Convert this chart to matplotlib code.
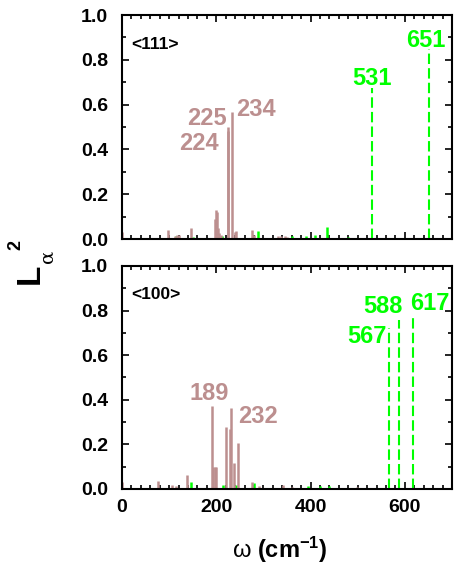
import matplotlib
matplotlib.use("Agg")
import matplotlib.pyplot as plt
from matplotlib.ticker import MultipleLocator

plt.rcParams['font.family'] = ['Liberation Sans', 'DejaVu Sans']
plt.rcParams['mathtext.fontset'] = 'custom'
plt.rcParams['mathtext.bf'] = 'Liberation Sans:bold'
plt.rcParams['mathtext.rm'] = 'Liberation Sans'
plt.rcParams['mathtext.it'] = 'Liberation Sans:italic'

BROWN = '#bc8f8f'
GREEN = '#00ff00'

# ---- <111> panel ----
top_brown_freq = [0, 97, 112, 116, 120, 146, 197, 199, 201, 203, 206, 210, 224, 225, 234, 239, 242, 275, 280, 330, 338, 345, 350, 455, 470, 485, 500]
top_brown_val  = [0.033, 0.04, 0.015, 0.02, 0.018, 0.048, 0.09, 0.13, 0.12, 0.05, 0.025, 0.02, 0.48, 0.50, 0.565, 0.03, 0.036, 0.04, 0.02, 0.015, 0.012, 0.015, 0.01, 0.006, 0.005, 0.006, 0.005]
top_green_freq = [115, 150, 213, 289, 360, 390, 409, 435, 480]
top_green_val  = [0.012, 0.01, 0.015, 0.034, 0.012, 0.012, 0.02, 0.055, 0.008]
top_mode_freq = [531, 651]
top_mode_val  = [0.673, 0.85]

# ---- <100> panel ----
bot_brown_freq = [0, 76, 107, 115, 138, 190, 194, 197, 200, 220, 229, 232, 237, 247, 275, 290, 342, 360, 498]
bot_brown_val  = [0.033, 0.036, 0.02, 0.015, 0.063, 0.372, 0.1, 0.1, 0.1, 0.28, 0.268, 0.362, 0.115, 0.205, 0.03, 0.015, 0.02, 0.01, 0.008]
bot_green_freq = [146, 215, 242, 281, 395, 420, 440]
bot_green_val  = [0.03, 0.02, 0.02, 0.025, 0.012, 0.015, 0.012]
bot_mode_freq = [567, 588, 617]
bot_mode_val  = [0.72, 0.758, 0.776]

fig = plt.figure(figsize=(4.55, 5.64), dpi=100)
ax1 = fig.add_axes([0.268, 0.5762, 0.7254, 0.3972])
ax2 = fig.add_axes([0.268, 0.133, 0.7254, 0.3954])


def style(ax, show_xlabels):
    ax.set_xlim(0, 700)
    ax.set_ylim(0, 1.0)
    ax.xaxis.set_major_locator(MultipleLocator(200))
    ax.xaxis.set_minor_locator(MultipleLocator(20))
    ax.yaxis.set_major_locator(MultipleLocator(0.2))
    ax.yaxis.set_minor_locator(MultipleLocator(0.1))
    ax.tick_params(which='both', direction='in', top=True, right=True, width=1.2)
    ax.tick_params(which='major', length=5)
    ax.tick_params(which='minor', length=3)
    ax.tick_params(axis='y', labelsize=14, pad=10)
    ax.tick_params(axis='x', labelsize=14, pad=7)
    for s in ax.spines.values():
        s.set_linewidth(1.5)
    ax.set_yticks([0, 0.2, 0.4, 0.6, 0.8, 1.0])
    ax.set_yticklabels(['0.0', '0.2', '0.4', '0.6', '0.8', '1.0'], fontweight='bold')
    if show_xlabels:
        ax.set_xticks([0, 200, 400, 600])
        ax.set_xticklabels(['0', '200', '400', '600'], fontweight='bold')
    else:
        ax.set_xticklabels([])


for ax, bf, bv, gf, gv, mf, mv in [
    (ax1, top_brown_freq, top_brown_val, top_green_freq, top_green_val, top_mode_freq, top_mode_val),
    (ax2, bot_brown_freq, bot_brown_val, bot_green_freq, bot_green_val, bot_mode_freq, bot_mode_val),
]:
    ax.vlines(gf, 0, gv, colors=GREEN, linewidth=1.8)
    ax.vlines(bf, 0, bv, colors=BROWN, linewidth=1.8)
    ax.vlines(mf, 0, mv, colors=GREEN, linewidth=1.5, linestyles=(0, (5, 2)))

style(ax1, False)
style(ax2, True)

lab_kw = dict(fontsize=17, fontweight='bold')
ax1.text(206, 0.397, '224', color=BROWN, ha='right', va='baseline', **lab_kw)
ax1.text(222, 0.509, '225', color=BROWN, ha='right', va='baseline', **lab_kw)
ax1.text(243, 0.55, '234', color=BROWN, ha='left', va='baseline', **lab_kw)
ax1.text(531, 0.6875, '531', color=GREEN, ha='center', va='baseline', **lab_kw)
ax1.text(645, 0.858, '651', color=GREEN, ha='center', va='baseline', **lab_kw)

ax2.text(184, 0.399, '189', color=BROWN, ha='center', va='baseline', **lab_kw)
ax2.text(246, 0.295, '232', color=BROWN, ha='left', va='baseline', **lab_kw)
ax2.text(561, 0.653, '567', color=GREEN, ha='right', va='baseline', **lab_kw)
ax2.text(554, 0.788, '588', color=GREEN, ha='center', va='baseline', **lab_kw)
ax2.text(653, 0.803, '617', color=GREEN, ha='center', va='baseline', **lab_kw)

ax1.text(0.028, 0.87, '<111>', transform=ax1.transAxes, fontsize=12.5, fontweight='bold', va='center')
ax2.text(0.028, 0.87, '<100>', transform=ax2.transAxes, fontsize=12.5, fontweight='bold', va='center')

# y label: L with subscript alpha and superscript 2
fig.text(0.067, 0.515, 'L', rotation=90, fontsize=24, fontweight='bold', ha='center', va='center')
fig.text(0.034, 0.5656, '2', rotation=90, fontsize=13, fontweight='bold', ha='center', va='center')
fig.text(0.104, 0.545, 'α', rotation=90, fontsize=14, family='DejaVu Serif', ha='center', va='center')

# x label
fig.text(0.615, 0.025, r'$\mathrm{ω}$ $\mathbf{(cm^{-1})}$', fontsize=17, fontweight='bold',
         ha='center', va='center')

fig.savefig('out.png', dpi=100)
